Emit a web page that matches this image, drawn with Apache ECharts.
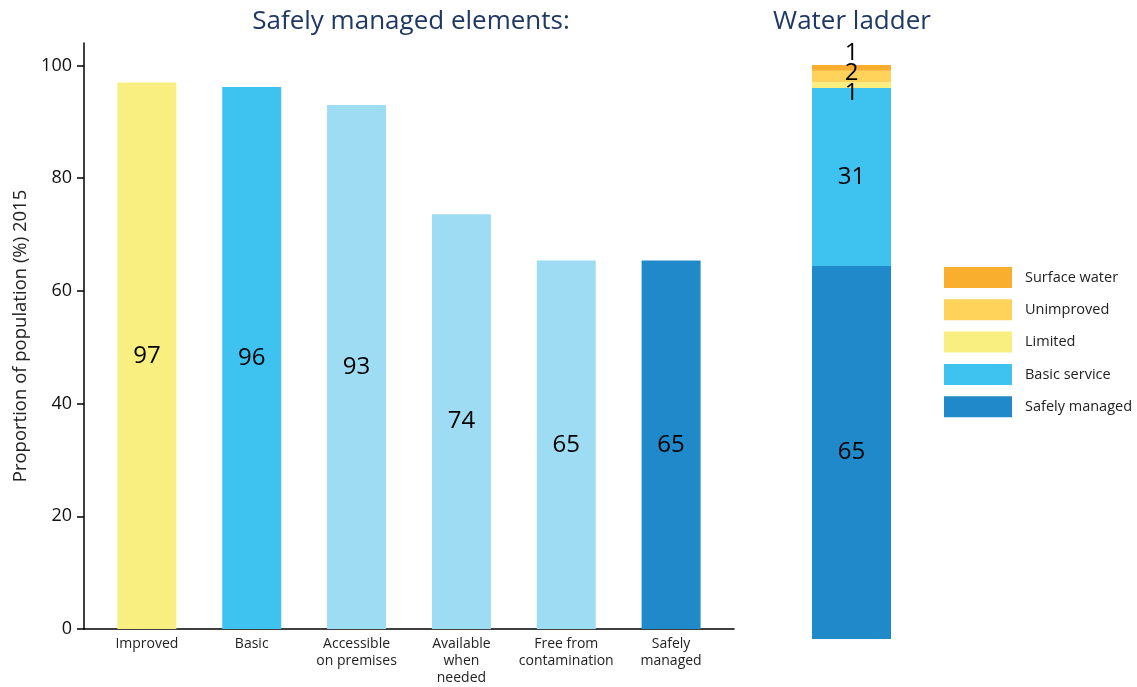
<!DOCTYPE html>
<html><head><meta charset="utf-8">
<script src="https://cdn.jsdelivr.net/npm/echarts@6/dist/echarts.min.js"></script>
<style>html,body{margin:0;padding:0;background:#fff}#c{width:1137px;height:687px}</style>
</head><body><div id="c"></div>
<script>
const elementCategories = ['Improved', 'Basic', 'Accessible\non premises', 'Available\nwhen\nneeded', 'Free from\ncontamination', 'Safely\nmanaged'];
const elementValues = [97, 96.2, 93, 73.6, 65.4, 65.4];
const elementColors = ['#F8EF80', '#3EC3F0', '#9EDCF3', '#9EDCF3', '#9EDCF3', '#2089C9'];
const yTickValues = [0, 20, 40, 60, 80, 100];

const ladderNames = ['Safely managed', 'Basic service', 'Limited', 'Unimproved', 'Surface water'];
const ladderValues = [65, 31, 1, 2, 1];
const ladderColors = ['#2089C9', '#3EC3F0', '#F8EF80', '#FFD25A', '#F9AE2D'];
const ladderLabelOffsets = [[0, 0], [0, 0], [0, 8], [0, -3], [0, -15]];
const legendOrder = ['Surface water', 'Unimproved', 'Limited', 'Basic service', 'Safely managed'];

const FONT = 'Open Sans';
const chart = echarts.init(document.getElementById('c'));

const ladderSeries = ladderNames.map((n, i) => ({
  name: n, type: 'bar', stack: 'ladder', xAxisIndex: 1, yAxisIndex: 1,
  barWidth: '100%',
  itemStyle: { color: ladderColors[i] },
  label: { show: true, position: 'inside', offset: ladderLabelOffsets[i], color: '#000', fontSize: 24, fontFamily: FONT },
  data: [ladderValues[i]]
}));

chart.setOption({
  animation: false,
  textStyle: { fontFamily: FONT },
  title: [
    { text: 'Safely managed elements:', left: 406, top: 4, textAlign: 'center', textStyle: { color: '#1F3864', fontSize: 26, fontWeight: 'normal', fontFamily: FONT } },
    { text: 'Water ladder', left: 847, top: 4, textAlign: 'center', textStyle: { color: '#1F3864', fontSize: 26, fontWeight: 'normal', fontFamily: FONT } }
  ],
  legend: {
    orient: 'vertical', left: 944, top: 267, padding: 0, itemWidth: 68, itemHeight: 21, itemGap: 11.3,
    icon: 'rect',
    data: legendOrder, selectedMode: false,
    textStyle: { fontSize: 14.5, color: '#222', fontFamily: FONT, padding: [0, 0, 0, 8] }
  },
  grid: [
    { left: 84, right: 403, top: 43, bottom: 55 },
    { left: 812, width: 79, top: 65, bottom: 48 }
  ],
  xAxis: [
    { type: 'value', gridIndex: 0, min: -0.6, max: 5.6,
      axisLine: { show: true, onZero: false, lineStyle: { color: '#000', width: 1.5 } },
      axisTick: { show: false }, splitLine: { show: false },
      axisLabel: { customValues: [0, 1, 2, 3, 4, 5], formatter: v => elementCategories[Math.round(v)], color: '#222', fontSize: 14, lineHeight: 17, margin: 7, fontFamily: FONT } },
    { type: 'category', gridIndex: 1, data: ['Ladder'], show: false }
  ],
  yAxis: [
    { type: 'value', gridIndex: 0, min: 0, max: 104,
      name: 'Proportion of population (%) 2015', nameLocation: 'middle', nameGap: 54, nameRotate: 90,
      nameTextStyle: { fontSize: 18.5, color: '#222', fontFamily: FONT },
      axisLine: { show: true, onZero: false, lineStyle: { color: '#000', width: 1.5 } },
      axisTick: { show: true, length: 7, customValues: yTickValues, lineStyle: { color: '#000', width: 1.5 } },
      axisLabel: { customValues: yTickValues, color: '#111', fontSize: 18, margin: 12, fontFamily: FONT },
      splitLine: { show: false } },
    { type: 'value', gridIndex: 1, min: 0, max: 100, show: false }
  ],
  series: [
    { type: 'bar', xAxisIndex: 0, yAxisIndex: 0, barWidth: 59,
      label: { show: true, position: 'inside', color: '#000', fontSize: 24, fontFamily: FONT, formatter: p => Math.round(p.value[1]) },
      data: elementValues.map((v, i) => ({ value: [i, v], itemStyle: { color: elementColors[i] } })) }
  ].concat(ladderSeries)
});
</script></body></html>
